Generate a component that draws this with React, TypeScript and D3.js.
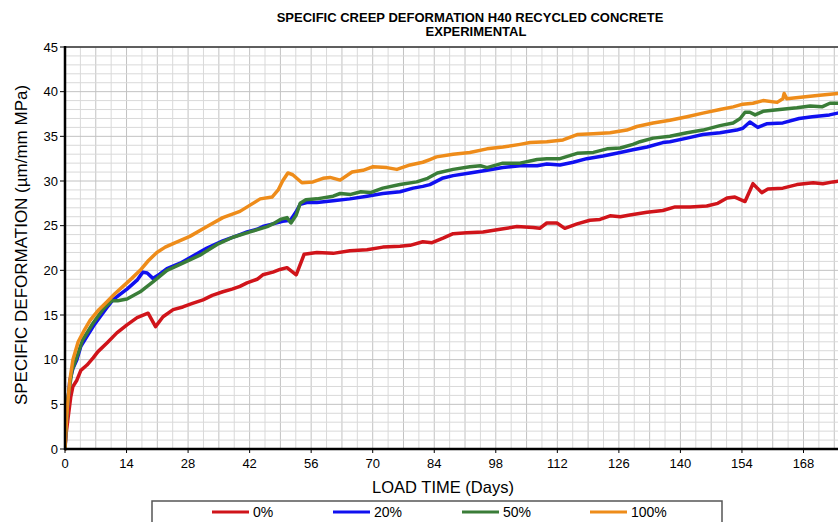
import React from "react";
import * as d3 from "d3";

const W = 838;
const H = 522;

const titleLines = ["SPECIFIC CREEP DEFORMATION H40 RECYCLED CONCRETE", "EXPERIMENTAL"];
const xTicks = [0, 14, 28, 42, 56, 70, 84, 98, 112, 126, 140, 154, 168];
const yTicks = [0, 5, 10, 15, 20, 25, 30, 35, 40, 45];
const seriesNames = ["0%", "20%", "50%", "100%"];
const seriesColors = ["#d0141a", "#1010f0", "#3a7d38", "#ee8c1a"];

const s0: [number, number][] = [
  [0, 0], [0.2, 1.5], [0.7, 3.5], [1.3, 5.8], [1.8, 7], [2.7, 7.7], [3.6, 8.8], [5, 9.4], [6.4, 10.2], [7.5, 10.9],
  [9.6, 11.9], [11.8, 13], [14.1, 13.9], [16.4, 14.7], [18.9, 15.2], [20.6, 13.7], [22.3, 14.8], [24.6, 15.6],
  [26.8, 15.9], [29, 16.3], [31.4, 16.7], [33.5, 17.2], [35.9, 17.6], [38, 17.9], [39.8, 18.2], [41.4, 18.6],
  [43.7, 19.0], [45, 19.5], [47.3, 19.8], [48.9, 20.1], [50.5, 20.3], [52.6, 19.5], [54.4, 21.8], [57.3, 22],
  [61, 21.9], [64.8, 22.2], [68.7, 22.3], [72.3, 22.6], [76.2, 22.7], [78.5, 22.8], [81.4, 23.2], [83.5, 23.1],
  [86, 23.6], [88.3, 24.1], [91.4, 24.2], [95.1, 24.3], [99, 24.6], [102.8, 24.9], [106.5, 24.8], [108, 24.7],
  [109.6, 25.3], [111.9, 25.3], [113.7, 24.7], [116.5, 25.2], [119.4, 25.6], [121.7, 25.7], [124, 26.1],
  [126.3, 26], [128.5, 26.2], [132.4, 26.5], [136, 26.7], [138.8, 27.1], [142.2, 27.1], [146, 27.2],
  [148.5, 27.5], [150.6, 28.1], [152.4, 28.2], [154.7, 27.7], [156.5, 29.7], [158.5, 28.7], [159.9, 29.1],
  [163.3, 29.2], [166.5, 29.6], [170.2, 29.8], [172.4, 29.7], [174.7, 29.9], [176.5, 30.0],
];

const s20: [number, number][] = [
  [0, 0], [0.3, 3], [0.7, 5.5], [1.1, 7.7], [1.8, 9], [2.7, 10], [3.6, 11.5], [5, 12.6], [6.5, 13.8], [8, 14.8],
  [9.8, 16], [10.9, 16.7], [12.5, 17.3], [14.1, 17.9], [16.4, 18.9], [17.7, 19.8], [18.7, 19.7], [20, 19.1],
  [21.6, 19.6], [23.2, 20.2], [26.2, 20.8], [29.1, 21.6], [32.3, 22.5], [35.9, 23.3], [39.8, 24.0], [41.4, 24.3],
  [43.7, 24.6], [45, 24.9], [47.3, 25.2], [49.5, 25.5], [51.3, 25.6], [52.5, 26.5], [53.5, 27.4], [55, 27.6],
  [57.3, 27.6], [61, 27.8], [64.8, 28.0], [68.7, 28.3], [72.3, 28.6], [76.2, 28.8], [79.2, 29.2], [81.4, 29.4],
  [83, 29.6], [85.8, 30.3], [88.3, 30.6], [92.1, 30.9], [96, 31.2], [99.6, 31.5], [103.5, 31.7], [107.4, 31.7],
  [109.6, 31.9], [112.6, 31.8], [115.6, 32.1], [118.7, 32.5], [122.4, 32.8], [126.3, 33.2], [129.2, 33.5],
  [132.4, 33.8], [136, 34.3], [137.6, 34.4], [141.5, 34.8], [145.1, 35.2], [149, 35.4], [152.8, 35.7],
  [154.2, 35.9], [155.8, 36.6], [157.6, 36], [159.6, 36.4], [163.3, 36.5], [167, 37], [170, 37.2],
  [173.9, 37.4], [175.8, 37.6],
];

const s50: [number, number][] = [
  [0, 0], [0.3, 3], [0.7, 5.8], [1.6, 8.8], [2.7, 10.3], [4, 12.2], [6.4, 14.1], [8.6, 15.6], [10.6, 16.6],
  [12, 16.6], [14.1, 16.8], [17.1, 17.6], [20, 18.7], [23.2, 20], [26.8, 20.8], [30.7, 21.7], [34.6, 22.9],
  [38.2, 23.7], [42.1, 24.3], [46, 24.9], [47.3, 25.2], [49, 25.7], [50.5, 25.9], [51.4, 25.3], [52.6, 26.2],
  [53.5, 27.5], [54.8, 27.9], [57.3, 28], [61, 28.3], [62.6, 28.6], [65, 28.5], [67.3, 28.8], [69.5, 28.7],
  [72.3, 29.2], [76.2, 29.6], [80, 29.9], [82.5, 30.3], [84.7, 30.9], [88.3, 31.3], [92.1, 31.6], [94.5, 31.7],
  [96, 31.5], [99.6, 32], [103.5, 32], [107.4, 32.4], [109.6, 32.5], [112.6, 32.5], [116.5, 33.1], [120.2, 33.2],
  [123.3, 33.6], [126.3, 33.7], [129.2, 34.1], [130.8, 34.4], [133.8, 34.8], [137.6, 35], [141.5, 35.4],
  [145.1, 35.7], [149, 36.2], [152, 36.5], [153.6, 37], [154.7, 37.7], [155.8, 37.7], [157, 37.4], [158.8, 37.8],
  [162.6, 38], [166.5, 38.2], [169.5, 38.4], [172.2, 38.3], [174, 38.7], [175.8, 38.7],
];

const s100: [number, number][] = [
  [0, 0], [0.2, 2], [0.5, 4.5], [1.1, 7.7], [1.8, 10], [3, 12], [4.5, 13.4], [5.7, 14.4], [7.7, 15.6], [9.6, 16.5],
  [11.4, 17.4], [13.2, 18.2], [15.2, 19.1], [17.1, 20], [19, 21.1], [20.9, 22], [22.8, 22.6], [24.6, 23],
  [28.4, 23.8], [32.3, 24.9], [35.9, 25.9], [39.8, 26.6], [42.1, 27.3], [44.4, 28.0], [47.1, 28.2], [48.5, 29],
  [49.5, 30], [50.7, 30.9], [51.8, 30.7], [53.9, 29.8], [56.4, 29.9], [58.7, 30.3], [60.3, 30.4], [62.6, 30.1],
  [65.3, 31], [67.8, 31.2], [70.1, 31.6], [73.2, 31.5], [75.5, 31.3], [78.5, 31.8], [81.4, 32.1], [83, 32.4],
  [84.5, 32.7], [88.3, 33], [92.1, 33.2], [96, 33.6], [99.6, 33.8], [103.5, 34.1], [105.8, 34.3], [109.6, 34.4],
  [113.3, 34.6], [116.5, 35.2], [120.2, 35.3], [124, 35.4], [127.8, 35.7], [130.1, 36.1], [133.8, 36.5],
  [137.6, 36.8], [141.5, 37.2], [145.1, 37.6], [149, 38], [152, 38.3], [154.2, 38.6], [156.5, 38.7],
  [158.8, 39], [162, 38.8], [163.3, 39.2], [163.6, 39.8], [164.2, 39.2], [167.9, 39.4], [171.7, 39.6],
  [175.8, 39.8],
];

const allSeries = [s0, s20, s50, s100];

export default function App() {
  const x0 = 65;
  const pxPerDay = (803.5 - 65) / 168;
  const x = d3.scaleLinear().domain([0, 182]).range([x0, x0 + 182 * pxPerDay]);
  const y = d3.scaleLinear().domain([0, 45]).range([449, 47]);
  const line = d3
    .line<[number, number]>()
    .x((d) => x(d[0]))
    .y((d) => y(d[1]));

  const xMinor = d3.range(0, 182.01, 3.5);
  const yMinor = d3.range(0, 45.01, 1);
  const right = W;
  const font = "'Liberation Sans', Arial, sans-serif";

  const legendX = [212, 333, 462, 590];

  return (
    <svg
      width={W}
      height={H}
      style={{ position: "absolute", left: 0, top: 0, background: "#fff" }}
      fontFamily={font}
    >
      <rect x={0} y={0} width={W} height={H} fill="#fff" />
      <defs>
        <clipPath id="plotClip">
          <rect x={x0} y={y(45) - 2} width={right - x0} height={y(0) - y(45) + 4} />
        </clipPath>
      </defs>
      {/* grid */}
      {xMinor.map((v, i) => (
        <line
          key={"gx" + i}
          x1={x(v)}
          x2={x(v)}
          y1={y(45)}
          y2={y(0)}
          stroke={i % 2 === 0 ? "#c2c2c2" : "#d9d9d9"}
          strokeWidth={1}
        />
      ))}
      {yMinor.map((v, i) => (
        <line
          key={"gy" + i}
          x1={x0}
          x2={right}
          y1={y(v)}
          y2={y(v)}
          stroke={i % 5 === 0 ? "#c2c2c2" : "#d9d9d9"}
          strokeWidth={1}
        />
      ))}
      {/* top border */}
      <line x1={x0} x2={right} y1={y(45)} y2={y(45)} stroke="#333" strokeWidth={1.5} />
      {/* series */}
      <g clipPath="url(#plotClip)">
        {allSeries.map((s, i) => (
          <path
            key={"s" + i}
            d={line(s) || ""}
            fill="none"
            stroke={seriesColors[i]}
            strokeWidth={3.5}
            strokeLinejoin="round"
            strokeLinecap="round"
          />
        ))}
      </g>
      {/* axes */}
      <line x1={x0} x2={x0} y1={y(45) - 1} y2={y(0) + 1} stroke="#000" strokeWidth={2.5} />
      <line x1={x0 - 1} x2={right} y1={y(0)} y2={y(0)} stroke="#000" strokeWidth={2.5} />
      {yTicks.map((v) => (
        <g key={"yt" + v}>
          <line x1={x0 - 5} x2={x0} y1={y(v)} y2={y(v)} stroke="#000" strokeWidth={1} />
          <text x={x0 - 7} y={y(v) + 4.5} fontSize={13} textAnchor="end" fill="#000">
            {v}
          </text>
        </g>
      ))}
      {xTicks.map((v) => (
        <g key={"xt" + v}>
          <line x1={x(v)} x2={x(v)} y1={y(0)} y2={y(0) + 4} stroke="#000" strokeWidth={1} />
          <text x={x(v)} y={468} fontSize={13} textAnchor="middle" fill="#000">
            {v}
          </text>
        </g>
      ))}
      {/* labels */}
      <text x={443} y={493} fontSize={16.5} textAnchor="middle" fill="#000">
        LOAD TIME (Days)
      </text>
      <text
        transform={`translate(27,${245}) rotate(-90)`}
        fontSize={17}
        textAnchor="middle"
        fill="#000"
      >
        SPECIFIC DEFORMATION (µm/mm MPa)
      </text>
      <text x={470} y={22} fontSize={13} fontWeight="bold" textAnchor="middle" fill="#000">
        {titleLines[0]}
      </text>
      <text x={476} y={36} fontSize={13} fontWeight="bold" textAnchor="middle" fill="#000">
        {titleLines[1]}
      </text>
      {/* legend */}
      <rect x={152} y={501} width={570} height={40} fill="#fff" stroke="#555" strokeWidth={1.5} />
      {seriesNames.map((n, i) => (
        <g key={"lg" + i}>
          <line
            x1={legendX[i]}
            x2={legendX[i] + 37}
            y1={512}
            y2={512}
            stroke={seriesColors[i]}
            strokeWidth={3}
          />
          <text x={legendX[i] + 41} y={517} fontSize={14} fill="#000">
            {n}
          </text>
        </g>
      ))}
    </svg>
  );
}
